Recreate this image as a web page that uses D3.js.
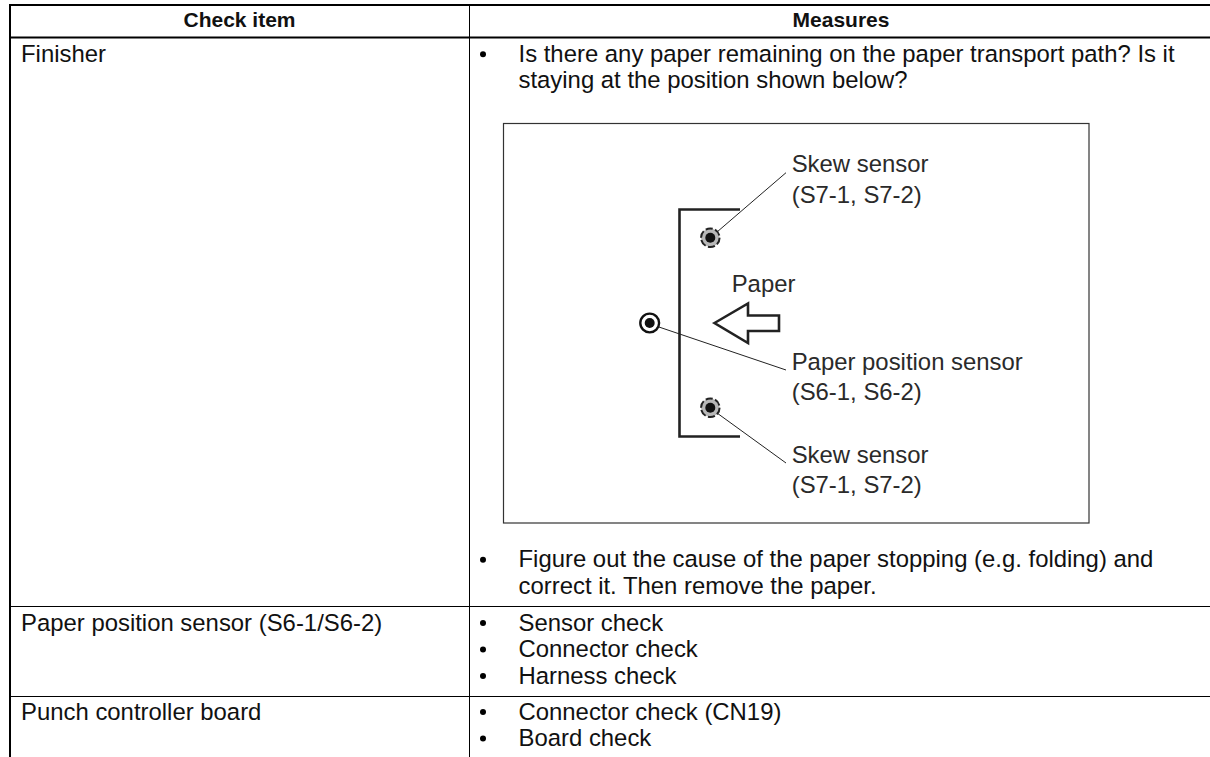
<!DOCTYPE html>
<html>
<head>
<meta charset="utf-8">
<script src="https://cdn.jsdelivr.net/npm/d3@7"></script>
<style>
body { margin: 0; background: #fff; }
svg { display: block; }
text { font-family: "Liberation Sans", Arial, sans-serif; fill: #111; }
</style>
</head>
<body>
<div id="chart"></div>
<script>
// table content
var headers = ["Check item", "Measures"];
var checkItems = ["Finisher", "Paper position sensor (S6-1/S6-2)", "Punch controller board"];
var measures1 = ["Is there any paper remaining on the paper transport path? Is it|staying at the position shown below?",
  "Figure out the cause of the paper stopping (e.g. folding) and|correct it. Then remove the paper."];
var measures2 = ["Sensor check", "Connector check", "Harness check"];
var measures3 = ["Connector check (CN19)", "Board check"];
var figureLabels = ["Skew sensor|(S7-1, S7-2)", "Paper", "Paper position sensor|(S6-1, S6-2)", "Skew sensor|(S7-1, S7-2)"];

var width = 1210, height = 757;
var svg = d3.select("#chart").append("svg").attr("width", width).attr("height", height);

var fontSize = 23.9, lineH = 26.6;
var bulletX = 483, textX = 518.5, itemX = 21;

// rules of the table
function rule(x1, y1, x2, y2, w, c) {
  svg.append("line").attr("x1", x1).attr("y1", y1).attr("x2", x2).attr("y2", y2)
    .attr("stroke", c || "#000").attr("stroke-width", w);
}
rule(9, 5, 1210, 5, 2);
rule(10, 37.5, 1210, 37.5, 2);
rule(10, 4, 10, 757, 2);
rule(469.5, 5, 469.5, 757, 1);
rule(10, 606.5, 1210, 606.5, 1);
rule(10, 696.5, 1210, 696.5, 1);

svg.selectAll("text.head").data(headers).enter().append("text")
  .attr("class", "head")
  .attr("x", function(d, i) { return i == 0 ? 239.5 : 841; })
  .attr("y", 26.5)
  .attr("text-anchor", "middle")
  .attr("font-weight", "bold")
  .attr("font-size", 21)
  .text(function(d) { return d; });

var itemY = [61.7, 630.5, 719.5];
svg.selectAll("text.item").data(checkItems).enter().append("text")
  .attr("class", "item")
  .attr("x", itemX)
  .attr("y", function(d, i) { return itemY[i]; })
  .attr("font-size", fontSize)
  .text(function(d) { return d; });

function bullets(list, ys) {
  list.forEach(function(d, i) {
    var y = ys[i];
    svg.append("circle").attr("cx", bulletX).attr("cy", y - 7.5).attr("r", 3).attr("fill", "#000");
    d.split("|").forEach(function(t, j) {
      svg.append("text").attr("x", textX).attr("y", y + j * lineH).attr("font-size", fontSize).text(t);
    });
  });
}
bullets(measures1, [61.7, 567.3]);
bullets(measures2, [630.5, 657, 683.5]);
bullets(measures3, [719.5, 746]);

// figure
svg.append("rect").attr("x", 503.5).attr("y", 123.5).attr("width", 585.5).attr("height", 399.5)
  .attr("fill", "none").attr("stroke", "#333").attr("stroke-width", 1.2);

var g = svg.append("g");
g.append("path").attr("d", "M740,209.5H679.5V436.5H740").attr("fill", "none").attr("stroke", "#222").attr("stroke-width", 2.6);
g.append("path").attr("d", "M714.5,323L748,303.5V315.5H779V331H748V343Z").attr("fill", "#fff").attr("stroke", "#222").attr("stroke-width", 2.6);

function skew(cx, cy) {
  g.append("circle").attr("cx", cx).attr("cy", cy).attr("r", 9.3).attr("fill", "#b8b8b8")
    .attr("stroke", "#222").attr("stroke-width", 2).attr("stroke-dasharray", "7.2 2.5");
  g.append("circle").attr("cx", cx).attr("cy", cy).attr("r", 5).attr("fill", "#111");
}
skew(710.3, 237.7);
skew(710.3, 407.7);
g.append("circle").attr("cx", 649.7).attr("cy", 323).attr("r", 9.4).attr("fill", "#fff").attr("stroke", "#111").attr("stroke-width", 2.4);
g.append("circle").attr("cx", 649.7).attr("cy", 323).attr("r", 5).attr("fill", "#111");

rule(717, 232, 786, 172.7, 1, "#222");
rule(658, 326.7, 786, 370, 1, "#222");
rule(717, 413, 786, 463, 1, "#222");

var labelPos = [[791.7, 172.3], [731.7, 291.7], [791.7, 370], [791.7, 462.7]];
figureLabels.forEach(function(d, i) {
  d.split("|").forEach(function(t, j) {
    g.append("text").attr("x", labelPos[i][0]).attr("y", labelPos[i][1] + j * 30.3)
      .attr("font-size", fontSize).style("fill", "#2a2a2a").text(t);
  });
});
</script>
</body>
</html>
